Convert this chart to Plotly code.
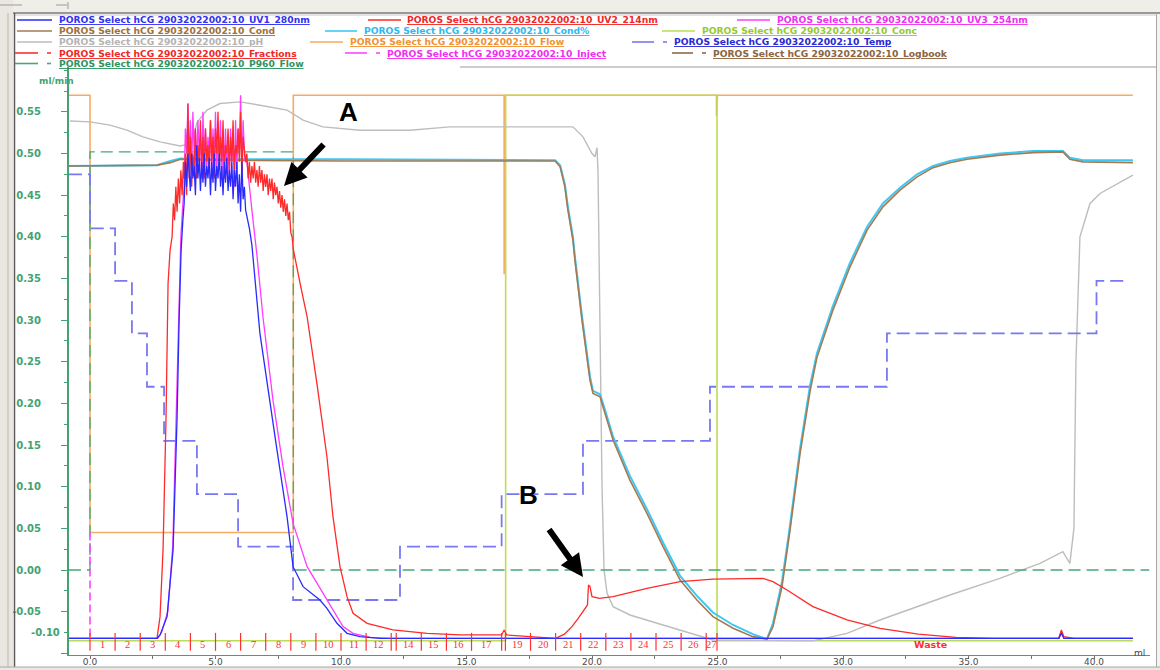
import plotly.graph_objects as go

# ======================= DATA (x in ml, y on the ml/min display scale) =======================
X_TICKS = [0, 5, 10, 15, 20, 25, 30, 35, 40]
X_TICK_LABELS = ["0.0", "5.0", "10.0", "15.0", "20.0", "25.0", "30.0", "35.0", "40.0"]
Y_TICKS = [-0.10, -0.05, 0.00, 0.05, 0.10, 0.15, 0.20, 0.25, 0.30, 0.35, 0.40, 0.45, 0.50, 0.55]
Y_TICK_LABELS = ["", "-0.05", "0.00", "0.05", "0.10", "0.15", "0.20", "0.25", "0.30", "0.35",
                 "0.40", "0.45", "0.50", "0.55"]

# noisy plateau sampling (shared by UV traces)
NOISE_X = [3.75, 3.80, 3.85, 3.90, 3.95, 4.00, 4.05, 4.10, 4.15, 4.20,
           4.25, 4.30, 4.35, 4.40, 4.45, 4.50, 4.55, 4.60, 4.65, 4.70,
           4.75, 4.80, 4.85, 4.90, 4.95, 5.00, 5.05, 5.10, 5.15, 5.20,
           5.25, 5.30, 5.35, 5.40, 5.45, 5.50, 5.55, 5.60, 5.65, 5.70,
           5.75, 5.80, 5.85, 5.90, 5.95, 6.00, 6.05, 6.10, 6.15, 6.20]

# UV1 280nm (blue)
UV1_RISE_X = [-0.84, 2.67, 2.79, 3.07, 3.31, 3.47, 3.55, 3.63, 3.70]
UV1_RISE_Y = [-0.082, -0.082, -0.078, -0.056, 0.024, 0.184, 0.300, 0.384, 0.420]
UV1_NOISE_Y = [0.44, 0.49, 0.46, 0.50, 0.47, 0.455, 0.50, 0.47, 0.485, 0.45,
               0.51, 0.47, 0.495, 0.455, 0.49, 0.465, 0.50, 0.46, 0.485, 0.47,
               0.495, 0.45, 0.49, 0.465, 0.50, 0.455, 0.485, 0.47, 0.50, 0.46,
               0.485, 0.45, 0.49, 0.465, 0.495, 0.455, 0.48, 0.46, 0.49, 0.445,
               0.48, 0.46, 0.49, 0.44, 0.475, 0.43, 0.49, 0.445, 0.46, 0.432]
UV1_TAIL_X = [6.35, 6.45, 6.77, 7.05, 7.45, 7.85, 8.09, 8.49, 9.16, 9.44, 9.84, 10.24,
              10.76, 11.55, 38.60, 38.70, 38.80, 41.55]
UV1_TAIL_Y = [0.410, 0.390, 0.284, 0.224, 0.144, 0.064, 0.004, -0.020, -0.036, -0.046, -0.064,
              -0.076, -0.080, -0.082, -0.082, -0.076, -0.082, -0.082]

# UV2 214nm (red)
UV2_RISE_X = [-0.84, 2.67, 2.79, 2.91, 3.03, 3.11, 3.19, 3.27, 3.32, 3.37, 3.42, 3.47,
              3.52, 3.57, 3.62, 3.67, 3.72]
UV2_RISE_Y = [-0.082, -0.082, -0.056, 0.024, 0.184, 0.344, 0.384, 0.400, 0.440, 0.420, 0.460,
              0.430, 0.470, 0.440, 0.480, 0.450, 0.490]
UV2_NOISE_Y = [0.47, 0.50, 0.45, 0.56, 0.47, 0.52, 0.46, 0.50, 0.48, 0.53,
               0.47, 0.51, 0.49, 0.54, 0.48, 0.52, 0.47, 0.53, 0.49, 0.51,
               0.48, 0.54, 0.49, 0.52, 0.47, 0.53, 0.50, 0.55, 0.48, 0.52,
               0.49, 0.54, 0.47, 0.51, 0.50, 0.53, 0.48, 0.52, 0.49, 0.54,
               0.48, 0.51, 0.50, 0.53, 0.49, 0.55, 0.47, 0.52, 0.50, 0.49]
UV2_DECL_X = [6.25, 6.30, 6.35, 6.40, 6.45, 6.50, 6.55, 6.60, 6.65, 6.70,
              6.75, 6.80, 6.85, 6.90, 6.95, 7.00, 7.05, 7.10, 7.15, 7.20,
              7.25, 7.30, 7.35, 7.40, 7.45, 7.50, 7.55, 7.60, 7.65, 7.70,
              7.75, 7.80, 7.85, 7.90, 7.95, 8.00, 8.05, 8.10]
UV2_DECL_Y = [0.500, 0.470, 0.490, 0.465, 0.485, 0.470, 0.490, 0.465, 0.480, 0.460,
              0.485, 0.465, 0.480, 0.455, 0.475, 0.460, 0.475, 0.450, 0.470, 0.455,
              0.470, 0.445, 0.465, 0.450, 0.460, 0.440, 0.455, 0.435, 0.450, 0.430,
              0.445, 0.425, 0.440, 0.420, 0.430, 0.405, 0.400, 0.385]
UV2_TAIL_X = [8.37, 8.65, 9.04, 9.44, 9.68, 9.96, 10.24, 10.48, 11.04, 12.07, 13.43, 14.75,
              16.40, 16.50, 16.60, 18.55, 18.90, 19.20, 19.45, 19.65, 19.82, 19.86, 19.92,
              20.00, 20.30, 20.84, 22.19, 23.51, 24.82, 26.81, 27.21, 27.77, 28.80, 30.16,
              31.47, 33.00, 34.50, 36.00, 38.60, 38.70, 38.80, 39.20, 41.55]
UV2_TAIL_Y = [0.344, 0.304, 0.224, 0.136, 0.064, 0.004, -0.032, -0.052, -0.064, -0.072, -0.076,
              -0.078, -0.078, -0.072, -0.078, -0.082, -0.077, -0.068, -0.058, -0.050, -0.042,
              -0.018, -0.020, -0.032, -0.034, -0.032, -0.022, -0.014, -0.011, -0.010, -0.014,
              -0.024, -0.044, -0.060, -0.070, -0.077, -0.081, -0.082, -0.082, -0.072, -0.080,
              -0.082, -0.082]

# UV3 254nm (magenta)
UV3_RISE_X = [-0.84, 2.70, 2.85, 3.10, 3.30, 3.45, 3.55, 3.62, 3.70]
UV3_RISE_Y = [-0.082, -0.082, -0.075, -0.050, 0.030, 0.190, 0.320, 0.400, 0.440]
UV3_NOISE_Y = [0.46, 0.53, 0.50, 0.56, 0.49, 0.54, 0.48, 0.55, 0.50, 0.53,
               0.48, 0.54, 0.50, 0.52, 0.47, 0.55, 0.49, 0.53, 0.48, 0.52,
               0.50, 0.54, 0.47, 0.53, 0.49, 0.55, 0.48, 0.52, 0.50, 0.54,
               0.47, 0.52, 0.49, 0.53, 0.48, 0.51, 0.47, 0.53, 0.49, 0.52,
               0.46, 0.54, 0.48, 0.53, 0.50, 0.57, 0.48, 0.54, 0.50, 0.49]
UV3_TAIL_X = [6.25, 6.45, 6.65, 6.89, 7.29, 7.69, 8.09, 8.65, 9.28, 9.68, 10.08, 10.48,
              11.16, 11.95, 38.60, 38.70, 38.80, 41.55]
UV3_TAIL_Y = [0.490, 0.432, 0.378, 0.304, 0.204, 0.124, 0.056, 0.004, -0.028, -0.048, -0.068,
              -0.076, -0.081, -0.082, -0.082, -0.074, -0.082, -0.082]

# Cond (brown) and Cond% (cyan)
COND_X = [-0.84, 2.67, 3.20, 3.60, 5.00, 10.00, 18.53, 18.73, 18.92, 19.04, 19.24, 19.32,
          19.60, 19.92, 20.04, 20.32, 20.52, 20.84, 21.51, 22.19, 22.83, 23.51, 24.18, 24.82,
          25.62, 26.41, 26.97, 27.21, 27.57, 27.89, 28.29, 28.69, 28.96, 29.60, 30.28, 30.96,
          31.59, 32.27, 32.95, 33.59, 34.26, 34.94, 36.25, 37.57, 38.76, 39.04, 39.56, 41.55]
COND_Y = [0.485, 0.486, 0.489, 0.493, 0.492, 0.491, 0.491, 0.484, 0.460, 0.432, 0.396, 0.372,
          0.300, 0.228, 0.212, 0.208, 0.188, 0.156, 0.108, 0.068, 0.028, -0.012, -0.036, -0.056,
          -0.070, -0.080, -0.083, -0.068, -0.020, 0.048, 0.140, 0.215, 0.255, 0.312, 0.364, 0.408,
          0.436, 0.456, 0.472, 0.483, 0.489, 0.493, 0.498, 0.501, 0.502, 0.493, 0.490, 0.489]
COND_PCT_Y = [0.485, 0.486, 0.491, 0.494, 0.493, 0.493, 0.492, 0.486, 0.463, 0.436, 0.400, 0.376,
              0.305, 0.232, 0.215, 0.211, 0.192, 0.160, 0.113, 0.073, 0.033, -0.007, -0.031, -0.051,
              -0.066, -0.077, -0.083, -0.064, -0.014, 0.054, 0.146, 0.222, 0.260, 0.317, 0.369, 0.412,
              0.440, 0.459, 0.475, 0.485, 0.491, 0.495, 0.500, 0.503, 0.503, 0.495, 0.492, 0.492]

# Conc (yellow-green)
CONC_X = [-0.84, 16.56, 16.56, 24.98, 24.98, 41.55]
CONC_Y = [-0.085, -0.085, 0.570, 0.570, -0.085, -0.085]

# pH (gray)
PH_X = [-0.80, 0.00, 0.80, 1.47, 2.11, 2.79, 3.59, 4.06, 4.26, 4.66, 5.18, 5.98, 6.77, 7.85,
        8.49, 9.28, 10.76, 12.75, 14.34, 16.85, 19.24, 19.64, 20.00, 20.12, 20.20, 20.24,
        20.32, 20.40, 20.48, 20.60, 20.84, 21.51, 22.83, 24.18, 24.82, 28.80, 30.16, 31.47,
        34.26, 36.25, 37.85, 38.76, 39.04, 39.20, 39.28, 39.44, 39.84, 40.24, 41.55]
PH_Y = [0.539, 0.538, 0.534, 0.528, 0.520, 0.514, 0.509, 0.512, 0.537, 0.552, 0.560, 0.562,
        0.558, 0.552, 0.540, 0.532, 0.528, 0.528, 0.532, 0.532, 0.532, 0.520, 0.500, 0.496,
        0.507, 0.477, 0.300, 0.100, 0.000, -0.028, -0.044, -0.054, -0.066, -0.078, -0.084,
        -0.085, -0.076, -0.060, -0.030, -0.010, 0.008, 0.022, 0.008, 0.050, 0.250, 0.400,
        0.440, 0.452, 0.474]

# Flow (orange)
FLOW_X = [-0.84, 0.00, 0.00, 8.10, 8.10, 16.50, 16.50, 16.52, 24.96, 24.96, 25.00, 41.55]
FLOW_Y = [0.570, 0.570, 0.045, 0.045, 0.570, 0.570, 0.355, 0.570, 0.570, 0.545, 0.570, 0.570]

# Temp (blue dashed, step)
TEMP_X = [-0.84, 0.00, 1.00, 1.67, 2.27, 2.95, 4.26, 5.90, 8.09, 12.35, 16.40, 19.64, 24.70,
          31.75, 40.10, 41.30]
TEMP_Y = [0.475, 0.410, 0.347, 0.284, 0.220, 0.155, 0.091, 0.028, -0.036, 0.028, 0.091, 0.155,
          0.220, 0.284, 0.347, 0.347]

# P960 Flow (green dashed)
P960_X = [-0.84, 0.00, 0.00, 8.10, 8.10, 42.20]
P960_Y = [0.000, 0.000, 0.502, 0.502, 0.000, 0.000]

# Inject (magenta dashed)
INJECT_X = [0.00, 0.00]
INJECT_Y = [0.045, -0.085]

# Fractions
FRAC_BOUNDS = [0, 1, 2, 3, 4, 5, 6, 7, 8, 9, 10, 11, 12, 12.2, 13.2, 14.2, 15.2, 16.4, 16.55,
               17.55, 18.55, 19.55, 20.55, 21.55, 22.55, 23.55, 24.55, 24.98]
FRAC_LABELS = ["1", "2", "3", "4", "5", "6", "7", "8", "9", "10", "11", "12", "", "14", "15",
               "16", "17", "", "19", "20", "21", "22", "23", "24", "25", "26", "27"]
WASTE_LABEL = "Waste"
WASTE_X = 33.5

# Legend
LEGEND_NAMES = ["POROS Select hCG 29032022002:10_UV1_280nm",
                "POROS Select hCG 29032022002:10_UV2_214nm",
                "POROS Select hCG 29032022002:10_UV3_254nm",
                "POROS Select hCG 29032022002:10_Cond",
                "POROS Select hCG 29032022002:10_Cond%",
                "POROS Select hCG 29032022002:10_Conc",
                "POROS Select hCG 29032022002:10_pH",
                "POROS Select hCG 29032022002:10_Flow",
                "POROS Select hCG 29032022002:10_Temp",
                "POROS Select hCG 29032022002:10_Fractions",
                "POROS Select hCG 29032022002:10_Inject",
                "POROS Select hCG 29032022002:10_Logbook",
                "POROS Select hCG 29032022002:10_P960_Flow"]

# ======================= STYLE / LAYOUT =======================
W, H = 1160, 670
ML, MR, MT, MB = 69, 10, 67, 15
PW = W - ML - MR
PH_ = H - MT - MB
X0_PX, X_SCALE = 90.0, 25.1        # pixel of 0 ml, px per ml
Y0_PX, Y_SCALE = 570.0, 833.0      # pixel of 0.00, px per unit


def pxx(px):
    return (px - ML) / PW


def pxy(py):
    return (H - MB - py) / PH_


x_range = [(ML - X0_PX) / X_SCALE, (W - MR - X0_PX) / X_SCALE]
y_range = [(Y0_PX - (H - MB)) / Y_SCALE, (Y0_PX - MT) / Y_SCALE]

C_UV1 = "#2a2aff"
C_UV2 = "#ff2a2a"
C_UV3 = "#ff3cff"
C_COND = "#a57a52"
C_CONDP = "#3cc8f5"
C_CONC = "#bddc55"
C_PH = "#bdbdbd"
C_FLOW = "#f8aa62"
C_TEMP = "#7878f2"
C_FRAC = "#ff3030"
C_INJ = "#ff44ff"
C_LOG = "#8c6a48"
C_P960 = "#46a878"
GREEN_AX = "#43a272"

fig = go.Figure()


def add_line(x, y, color, width=1.5, dash=None, shape="linear"):
    fig.add_trace(go.Scatter(x=x, y=y, mode="lines", showlegend=False, hoverinfo="skip",
                             line=dict(color=color, width=width, dash=dash, shape=shape)))


add_line(FLOW_X, FLOW_Y, C_FLOW, 1.6)
add_line(CONC_X, CONC_Y, C_CONC, 1.6)
add_line(PH_X, PH_Y, C_PH, 1.4)
add_line(P960_X, P960_Y, C_P960, 1.3, dash="12px,6px")
add_line(TEMP_X, TEMP_Y, C_TEMP, 1.8, dash="13px,6px", shape="hv")
add_line(COND_X, COND_PCT_Y, C_CONDP, 2.0)
add_line(COND_X, COND_Y, C_COND, 1.6)
add_line(UV3_RISE_X + NOISE_X + UV3_TAIL_X, UV3_RISE_Y + UV3_NOISE_Y + UV3_TAIL_Y, C_UV3, 1.3)
add_line(UV2_RISE_X + NOISE_X + UV2_DECL_X + UV2_TAIL_X,
         UV2_RISE_Y + UV2_NOISE_Y + UV2_DECL_Y + UV2_TAIL_Y, C_UV2, 1.3)
add_line(UV1_RISE_X + NOISE_X + UV1_TAIL_X, UV1_RISE_Y + UV1_NOISE_Y + UV1_TAIL_Y, C_UV1, 1.3)
add_line(INJECT_X, INJECT_Y, C_INJ, 1.6, dash="8px,4px")

# fraction ticks
fx, fy = [], []
for b in FRAC_BOUNDS:
    fx += [b, b, None]
    fy += [-0.0755, -0.097, None]
add_line(fx, fy, C_FRAC, 1.2)

annotations = []
for i, lab in enumerate(FRAC_LABELS):
    if lab:
        annotations.append(dict(x=(FRAC_BOUNDS[i] + FRAC_BOUNDS[i + 1]) / 2, y=-0.0895,
                                xref="x", yref="y", text=lab, showarrow=False,
                                font=dict(family="Liberation Serif", size=10.5, color=C_FRAC)))
annotations.append(dict(x=WASTE_X, y=-0.0895, xref="x", yref="y", text="<b>" + WASTE_LABEL + "</b>",
                        showarrow=False, font=dict(family="DejaVu Sans", size=9.5, color=C_FRAC)))


def to_ml(px):
    return (px - X0_PX) / X_SCALE


def to_val(py):
    return (Y0_PX - py) / Y_SCALE


# A / B markers with arrows
annotations.append(dict(x=to_ml(348), y=to_val(112), xref="x", yref="y", text="<b>A</b>",
                        showarrow=False, font=dict(family="Liberation Sans", size=26, color="black")))
annotations.append(dict(x=to_ml(528), y=to_val(495), xref="x", yref="y", text="<b>B</b>",
                        showarrow=False, font=dict(family="Liberation Sans", size=26, color="black")))
annotations.append(dict(x=to_ml(284), y=to_val(186), xref="x", yref="y", text="", showarrow=True,
                        ax=41, ay=-43, arrowhead=2, arrowsize=0.75, arrowwidth=6, arrowcolor="black"))
annotations.append(dict(x=to_ml(583), y=to_val(577), xref="x", yref="y", text="", showarrow=True,
                        ax=-35, ay=-49, arrowhead=2, arrowsize=0.75, arrowwidth=6, arrowcolor="black"))

# axis extras
annotations.append(dict(x=pxx(37), y=pxy(74), xref="paper", yref="paper", text="<b>ml/min</b>",
                        showarrow=False, font=dict(family="DejaVu Sans", size=9, color=GREEN_AX)))
annotations.append(dict(x=pxx(29), y=pxy(640), xref="paper", yref="paper", text="<b>-0.10</b>",
                        showarrow=False, font=dict(family="DejaVu Sans", size=10, color=GREEN_AX)))
annotations.append(dict(x=pxx(1147), y=pxy(660), xref="paper", yref="paper", text="ml",
                        showarrow=False, font=dict(family="DejaVu Sans", size=9, color="#444444")))

# legend (manual)
ROW_Y = [20, 31, 42, 53, 63.5]
LEG_LAYOUT = [  # (row, line x0, line x1, text x, dashed)
    (0, 17, 52, 57, False), (0, 368, 401, 405, False), (0, 737, 770, 775, False),
    (1, 17, 52, 57, False), (1, 325, 357, 362, False), (1, 662, 695, 700, False),
    (2, 17, 52, 57, False), (2, 310, 343, 348, False), (2, 632, 668, 672, True),
    (3, 15, 52, 57, True), (3, 345, 381, 385, True), (3, 672, 707, 711, True),
    (4, 15, 52, 57, True)]
LEG_LINE_C = [C_UV1, C_UV2, C_UV3, C_COND, C_CONDP, C_CONC, C_PH, C_FLOW, C_TEMP,
              C_FRAC, C_INJ, C_LOG, C_P960]
LEG_TEXT_C = ["#3232f0", "#f02828", "#f030f0", "#a0703c", "#30b8f0", "#96c832", "#b4b4b4",
              "#f09232", "#2a2ad2", "#f02828", "#f030f0", "#8c6440", "#2f9462"]

shapes = []
# window frame
shapes.append(dict(type="rect", xref="paper", yref="paper", x0=pxx(0), x1=pxx(W), y0=pxy(0), y1=pxy(13),
                   fillcolor="#efeee9", line=dict(width=0), layer="above"))
shapes.append(dict(type="rect", xref="paper", yref="paper", x0=pxx(0), x1=pxx(13), y0=pxy(0), y1=pxy(H),
                   fillcolor="#e9e7df", line=dict(width=0), layer="above"))
shapes.append(dict(type="rect", xref="paper", yref="paper", x0=pxx(0), x1=pxx(W), y0=pxy(667), y1=pxy(H),
                   fillcolor="#e9e7df", line=dict(width=0), layer="above"))
shapes.append(dict(type="rect", xref="paper", yref="paper", x0=pxx(1157), x1=pxx(W), y0=pxy(13), y1=pxy(667),
                   fillcolor="#f3f3f1", line=dict(width=0), layer="above"))
for (x0, y0, x1, y1, c, w) in [(13, 13, W, 13, "#7a7a7a", 1.5), (14, 15, 1157, 15, "#c8c8c8", 1),
                               (14.5, 13, 14.5, 667, "#5a5a5a", 1.5), (8, 13, 8, 667, "#b9b7ae", 1),
                               (0, 667, W, 667, "#a8a8a8", 1), (1156.5, 13, 1156.5, 667, "#a8a8a8", 1),
                               (460, 67, 1156, 67, "#9a9a9a", 1.2),
                               (0, 5, 22, 5, "#9a9a9a", 1), (56, 5, 67, 5, "#9a9a9a", 1),
                               (68, 2, 68, 9, "#9a9a9a", 1)]:
    shapes.append(dict(type="line", xref="paper", yref="paper", x0=pxx(x0), x1=pxx(x1),
                       y0=pxy(y0), y1=pxy(y1), line=dict(color=c, width=w), layer="above"))

for i, name in enumerate(LEGEND_NAMES):
    row, lx0, lx1, tx, dashed = LEG_LAYOUT[i]
    yy = pxy(ROW_Y[row])
    if dashed:
        shapes.append(dict(type="line", xref="paper", yref="paper", x0=pxx(lx0), x1=pxx(lx1 - 14),
                           y0=yy, y1=yy, line=dict(color=LEG_LINE_C[i], width=1.6)))
        shapes.append(dict(type="line", xref="paper", yref="paper", x0=pxx(lx1 - 5), x1=pxx(lx1 - 1),
                           y0=yy, y1=yy, line=dict(color=LEG_LINE_C[i], width=1.6)))
    else:
        shapes.append(dict(type="line", xref="paper", yref="paper", x0=pxx(lx0), x1=pxx(lx1),
                           y0=yy, y1=yy, line=dict(color=LEG_LINE_C[i], width=1.6)))
    annotations.append(dict(x=pxx(tx), y=yy, xref="paper", yref="paper", xanchor="left",
                            yanchor="middle", text="<u><b>" + name + "</b></u>", showarrow=False,
                            font=dict(family="DejaVu Sans", size=9.2, color=LEG_TEXT_C[i])))

fig.update_layout(
    width=W, height=H, autosize=False,
    margin=dict(l=ML, r=MR, t=MT, b=MB, pad=0, autoexpand=False),
    paper_bgcolor="white", plot_bgcolor="white",
    showlegend=False,
    xaxis=dict(range=x_range, showgrid=False, zeroline=False, showline=True, linecolor="#808080",
               linewidth=1, ticks="outside", ticklen=3, tickcolor="#707070", automargin=False,
               tickvals=X_TICKS, ticktext=X_TICK_LABELS, ticklabelstandoff=-5,
               tickfont=dict(family="DejaVu Sans", size=9, color="#4a4a4a"),
               minor=dict(ticks="outside", ticklen=3, dtick=2.5, tick0=0, tickcolor="#707070")),
    yaxis=dict(range=y_range, showgrid=False, zeroline=False, showline=True, linecolor=GREEN_AX,
               linewidth=2, ticks="outside", ticklen=6, tickcolor=GREEN_AX, tickwidth=1,
               automargin=False,
               tickvals=Y_TICKS, ticktext=["<b>" + t + "</b>" for t in Y_TICK_LABELS],
               tickfont=dict(family="DejaVu Sans", size=10, color=GREEN_AX),
               ticklabelstandoff=18,
               minor=dict(ticks="outside", ticklen=3, dtick=0.025, tick0=0, tickcolor=GREEN_AX)),
    shapes=shapes,
    annotations=annotations,
)

fig.write_html("out.html")
